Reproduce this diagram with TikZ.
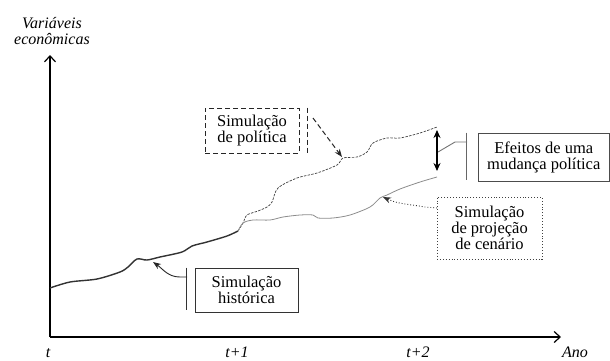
\documentclass[tikz,border=0pt]{standalone}
\usepackage{fontspec}
\setmainfont{Liberation Serif}
\usetikzlibrary{arrows.meta}
\begin{document}
\begin{tikzpicture}[
  x=1pt, y=-1pt,
  font=\fontsize{16.5}{16}\selectfont,
  box/.style={draw, align=center, inner sep=0pt},
  axis/.style={line width=1.2pt, -{Straight Barb[length=6pt,width=11pt]}},
  lbl/.style={font=\fontsize{16}{16.5}\selectfont\itshape, align=center},
  tip/.style={-{Stealth[length=8pt,width=6pt]}}
]
\useasboundingbox (0,0) rectangle (610,360);
% axes
\coordinate (origin) at (50,337);
\coordinate (ytop) at (50,55);
\coordinate (xend) at (561,337);
\draw[axis] (origin) -- (ytop);
\draw[axis] (origin) -- (xend);
\node[lbl] (yname) at (52,31) {Variáveis\\econômicas};
\node[lbl, anchor=base] (tzero) at (48,357) {t};
\node[lbl, anchor=base] (tone) at (237,357) {t+1};
\node[lbl, anchor=base] (ttwo) at (418,357) {t+2};
\node[lbl, anchor=base] (ano) at (575,357) {Ano};
% curves
\draw[line width=1.4pt, black!80, smooth, tension=0.5] plot coordinates {
  (50,288) (70,282) (97,279) (120,272) (128,267) (137,259) (147,260)
  (160,257) (182,252) (192,246) (207,242) (227,236) (238,231)};
\draw[black!75, line width=0.7pt, dash pattern=on 2.5pt off 1.3pt, smooth, tension=0.5]
  plot coordinates {
  (238,231) (243,223) (247,215) (258,211) (267,207) (272,202) (278,188)
  (297,178) (317,173) (337,165) (343,158) (357,157) (367,152) (373,143)
  (387,138) (400,138) (420,133) (437,127)};
\draw[black!45, line width=0.8pt, smooth, tension=0.5] plot coordinates {
  (238,231) (243,223) (253,220) (270,220) (283,217) (300,215) (313,215)
  (318,218) (333,218) (350,215) (370,207) (380,198) (387,195) (400,189)
  (420,182) (437,177)};
% boxes
\node[box, line width=0.9pt, black!80, text=black, minimum width=103pt, minimum height=44pt]
  (hist) at (246.5,290) {Simulação\\histórica};
\node[box, line width=1pt, black!85, text=black, dash pattern=on 5pt off 3pt,
  minimum width=94pt, minimum height=45pt] (pol) at (252,130.5) {Simulação\\de política};
\node[box, line width=0.9pt, black!75, text=black, dotted, minimum width=105pt, minimum height=62pt]
  (cen) at (489.5,228) {Simulação\\de projeção\\de cenário};
\node[box, line width=0.9pt, black!70, text=black, minimum width=131pt, minimum height=48pt]
  (efe) at (543.75,157) {Efeitos de uma\\mudança política};
% pointers
\draw[line width=0.9pt, black!80] ([xshift=-8pt]hist.north west) -- ([xshift=-8pt,yshift=2pt]hist.south west);
\coordinate (histfrom) at (187,277);
\coordinate (histtip) at (153,262);
\draw[tip, line width=0.9pt, black!85] (histfrom) -- ++(-7,0) to[out=180,in=-35] (histtip);
\draw[line width=1pt, black!85, dash pattern=on 5pt off 3pt] ([xshift=8pt]pol.north east) -- ([xshift=8pt]pol.south east);
\coordinate (polfrom) at (313,118);
\coordinate (poltip) at (342,157);
\draw[tip, line width=1pt, black!85, dash pattern=on 5pt off 3pt] (polfrom) -- (poltip);
\coordinate (cenfrom) at (437,208);
\coordinate (centip) at (383,197);
\draw[tip, line width=0.9pt, black!80, dotted] (cenfrom) -- ++(-12,-1) to[out=170,in=-25] (centip);
\draw[line width=0.9pt, black!60] ([xshift=-11pt]efe.north west) -- ([xshift=-11pt,yshift=1pt]efe.south west);
\coordinate (efefrom) at (467,142);
\coordinate (efetip) at (438,152);
\draw[line width=0.9pt, black!55] (efefrom) -- ++(-12,0) -- (efetip);
\coordinate (diftop) at (437,130);
\coordinate (difbot) at (437,171);
\draw[{Stealth[length=8pt,width=7pt]}-{Stealth[length=8pt,width=7pt]}, line width=1.3pt] (diftop) -- (difbot);
\end{tikzpicture}
\end{document}
